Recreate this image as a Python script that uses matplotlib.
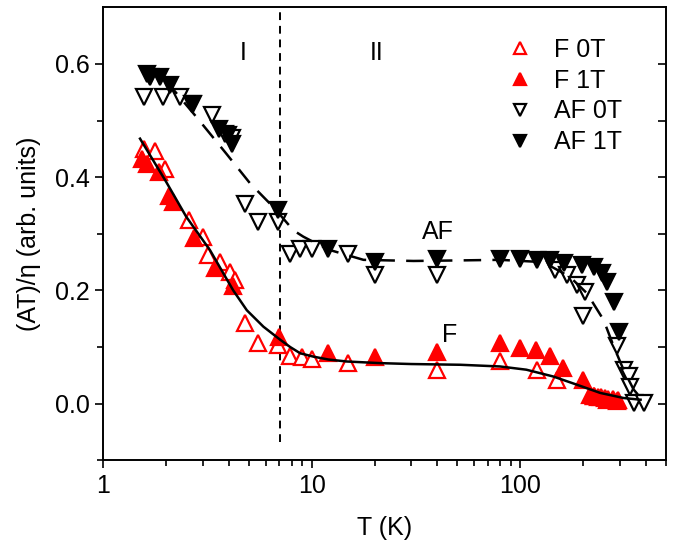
import matplotlib
matplotlib.use("Agg")
import matplotlib.pyplot as plt
from matplotlib.ticker import FixedLocator, NullFormatter, FuncFormatter, LogLocator

plt.rcParams['font.family'] = ['Liberation Sans', 'DejaVu Sans']

# ---- data ----
f0_T = [1.56, 1.77, 1.98, 2.59, 3.02, 3.19, 3.63, 4.06, 4.29, 4.79, 5.55, 6.92, 7.88, 8.96, 10.0, 15.0, 39.8,
        80.3, 120, 150, 225, 261, 292]
f0_v = [0.450, 0.447, 0.415, 0.324, 0.295, 0.262, 0.250, 0.233, 0.218, 0.142, 0.107, 0.104, 0.085, 0.083, 0.079, 0.072, 0.060,
        0.075, 0.059, 0.042, 0.013, 0.007, 0.004]

f1_T = [1.53, 1.62, 1.84, 2.07, 2.17, 2.73, 3.44, 4.21, 7.0, 12.0, 20.1, 39.8,
        80.3, 100, 119.5, 139, 160, 200, 215, 225, 235, 245, 255, 265, 280, 295]
f1_v = [0.432, 0.424, 0.409, 0.366, 0.356, 0.292, 0.239, 0.207, 0.118, 0.089, 0.083, 0.092,
        0.107, 0.098, 0.095, 0.085, 0.063, 0.042, 0.015, 0.013, 0.012, 0.011, 0.010, 0.009, 0.008, 0.007]

af0_T = [1.56, 1.94, 2.33, 2.70, 3.31, 3.84, 4.13, 4.79, 5.55, 6.92, 7.88, 8.8, 10.0, 15.0, 20.1, 39.8,
         147, 168, 187, 205, 201, 292, 314, 331, 337, 350, 391]
af0_v = [0.541, 0.541, 0.541, 0.529, 0.509, 0.477, 0.470, 0.353, 0.321, 0.321, 0.265, 0.274, 0.274, 0.265, 0.227, 0.227,
         0.236, 0.227, 0.210, 0.198, 0.154, 0.101, 0.060, 0.048, 0.030, 0.001, 0.001]

af1_T = [1.62, 1.68, 1.87, 2.09, 2.66, 3.57, 3.98, 4.13, 6.92, 12.0, 20.1, 39.8,
         80.3, 100, 120, 139, 162, 198, 225, 247, 261, 281, 297]
af1_v = [0.582, 0.576, 0.576, 0.562, 0.529, 0.485, 0.474, 0.459, 0.342, 0.274, 0.250, 0.256,
         0.256, 0.256, 0.254, 0.254, 0.249, 0.245, 0.242, 0.231, 0.215, 0.180, 0.127]

# solid curve (F)
fit_f_T = [1.5, 2.0, 2.5, 3.25, 4.2, 4.88, 5.86, 7.05, 7.88, 8.8, 10.2, 12.0, 14.7, 21.3, 30, 51.6, 80, 107, 144, 187, 242, 313, 378]
fit_f_v = [0.468, 0.392, 0.330, 0.271, 0.200, 0.165, 0.136, 0.113, 0.100, 0.089, 0.083, 0.078, 0.0745, 0.0716, 0.070, 0.0687, 0.0657, 0.060, 0.048, 0.0335, 0.019, 0.010, 0.007]

# dashed curve (AF)
fit_af_T = [1.5, 2.0, 2.8, 3.9, 5.06, 6.55, 8.17, 9.1, 10.5, 12.3, 17.7, 30.8, 51.6, 80, 129, 173, 209, 251, 281, 313, 350, 391]
fit_af_v = [0.594, 0.570, 0.506, 0.441, 0.389, 0.347, 0.306, 0.295, 0.283, 0.271, 0.254, 0.252, 0.253, 0.254, 0.250, 0.224, 0.195, 0.148, 0.101, 0.060, 0.025, 0.004]

boundary_T = 7.05

FS = 18
fig = plt.figure(figsize=(6.74, 5.47), dpi=100)
ax = fig.add_axes([0.1533, 0.1585, 0.8347, 0.8282])

ms = 11
mew = 1.6
ax.plot(f0_T, f0_v, linestyle='none', marker='^', ms=ms, mfc='white', mec='red', mew=mew, label='F 0T', zorder=3)
ax.plot(f1_T, f1_v, linestyle='none', marker='^', ms=ms, mfc='red', mec='red', mew=mew, label='F 1T', zorder=3)
ax.plot(af0_T, af0_v, linestyle='none', marker='v', ms=ms, mfc='white', mec='black', mew=mew, label='AF 0T', zorder=3)
ax.plot(af1_T, af1_v, linestyle='none', marker='v', ms=ms, mfc='black', mec='black', mew=mew, label='AF 1T', zorder=3)

ax.plot(fit_f_T, fit_f_v, color='black', lw=1.8, zorder=4)
ax.plot(fit_af_T, fit_af_v, color='black', lw=1.8, dashes=(7, 4.5), zorder=4)
ax.plot([boundary_T, boundary_T], [-0.068, 0.7], color='black', lw=1.4, dashes=(4, 3), zorder=2)

ax.set_xscale('log')
ax.set_xlim(1, 500)
ax.set_ylim(-0.1, 0.7)

ax.xaxis.set_major_locator(FixedLocator([1, 10, 100]))
ax.xaxis.set_major_formatter(FuncFormatter(lambda v, p: '%g' % v))
ax.xaxis.set_minor_locator(LogLocator(base=10, subs=range(2, 10)))
ax.xaxis.set_minor_formatter(NullFormatter())
ax.set_yticks([0.0, 0.2, 0.4, 0.6])
ax.yaxis.set_major_formatter(FuncFormatter(lambda v, p: '%.1f' % v))
ax.set_yticks([-0.1, 0.1, 0.3, 0.5], minor=True)

ax.tick_params(axis='both', which='major', direction='out', length=6, width=1.2, labelsize=FS, pad=4)
ax.tick_params(axis='both', which='minor', direction='out', length=4, width=1.2)
for s in ax.spines.values():
    s.set_linewidth(1.2)

# right-side inward ticks
axr = ax.twinx()
axr.set_ylim(-0.1, 0.7)
axr.set_yticks([0.0, 0.1, 0.2, 0.3, 0.4, 0.5, 0.6])
axr.set_yticklabels([])
axr.tick_params(axis='y', direction='in', length=6, width=1.2)
for s in axr.spines.values():
    s.set_linewidth(1.2)

ax.set_xlabel('T (K)', fontsize=FS, labelpad=13)
ax.set_ylabel('(AT)/η (arb. units)', fontsize=FS, labelpad=10)

ax.text(4.69, 0.62, 'I', fontsize=FS, ha='center', va='center')
ax.text(20.4, 0.62, 'II', fontsize=FS, ha='center', va='center')
ax.text(40.4, 0.303, 'AF', fontsize=FS, ha='center', va='center')
ax.text(45.7, 0.121, 'F', fontsize=FS, ha='center', va='center')

leg = ax.legend(loc='upper left', frameon=False, fontsize=FS, markerscale=0.8,
                handlelength=1.0, handletextpad=0.9, labelspacing=0.27, borderpad=0, borderaxespad=0,
                bbox_to_anchor=(507 / 674, 1 - 38 / 547), bbox_transform=fig.transFigure)

fig.savefig('out.png', dpi=100)
